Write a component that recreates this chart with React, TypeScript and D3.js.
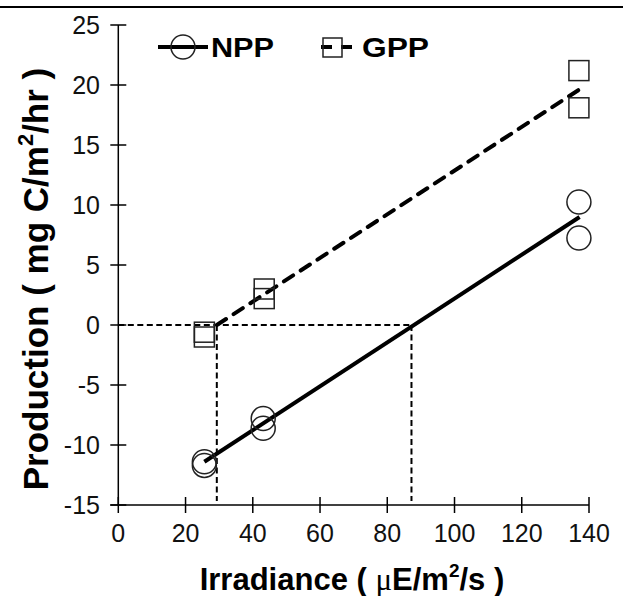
import React from 'react';
import * as d3 from 'd3';

// measured values
const nppX = [25.6, 25.6, 43.1, 43.1, 137, 137];
const nppY = [-11.4, -11.7, -7.8, -8.6, 10.25, 7.25];
const gppX = [25.6, 25.6, 43.4, 43.4, 137, 137];
const gppY = [-0.6, -1.0, 3.0, 2.2, 21.2, 18.1];

// fitted lines and compensation points
const nppFit: [number, number][] = [[25.6, -11.4], [137.2, 9.0]];
const gppFit: [number, number][] = [[29.3, 0], [137, 19.6]];
const compX = [29.3, 87.2];

const xTicks = [0, 20, 40, 60, 80, 100, 120, 140];
const yTicks = [-15, -10, -5, 0, 5, 10, 15, 20, 25];

const W = 623;
const H = 596;

const App = () => {
  const x = d3.scaleLinear().domain([0, 140]).range([118.3, 589]);
  const y = d3.scaleLinear().domain([-15, 25]).range([505, 25]);
  const line = d3.line<[number, number]>().x(d => x(d[0])).y(d => y(d[1]));
  const sans = 'Liberation Sans, Arial, Helvetica, sans-serif';

  return (
    <svg width={W} height={H} style={{ position: 'absolute', left: 0, top: 0, background: '#fff' }}
      fontFamily={sans}>
      <line x1={0} x2={W} y1={7} y2={7} stroke="#000" strokeWidth={2} />

      {/* axes */}
      <line x1={x(0)} x2={x(0)} y1={y(25)} y2={y(-15)} stroke="#000" strokeWidth={1.5} />
      <line x1={x(0) - 8} x2={x(140)} y1={y(-15)} y2={y(-15)} stroke="#000" strokeWidth={1.5} />
      {yTicks.map(t => (
        <g key={'y' + t}>
          <line x1={x(0) - 8} x2={x(0) + 8} y1={y(t)} y2={y(t)} stroke="#000" strokeWidth={1.5} />
          <text x={100} y={y(t)} dy="0.35em" textAnchor="end" fontSize={25} fill="#111">{t}</text>
        </g>
      ))}
      {xTicks.map(t => (
        <g key={'x' + t}>
          <line x1={x(t)} x2={x(t)} y1={y(-15) - 8} y2={y(-15) + 8} stroke="#000" strokeWidth={1.5} />
          <text x={x(t)} y={542} textAnchor="middle" fontSize={25} fill="#111">{t}</text>
        </g>
      ))}

      {/* compensation reference lines */}
      <line x1={x(0)} x2={x(compX[1])} y1={y(0)} y2={y(0)} stroke="#000" strokeWidth={2} strokeDasharray="6,3.5" />
      {compX.map(c => (
        <line key={c} x1={x(c)} x2={x(c)} y1={y(0)} y2={y(-15) - 4} stroke="#000" strokeWidth={2} strokeDasharray="6,3.5" />
      ))}

      {/* fits */}
      <path d={line(nppFit) || ''} fill="none" stroke="#000" strokeWidth={4} />
      <path d={line(gppFit) || ''} fill="none" stroke="#000" strokeWidth={4} strokeDasharray="11,9" strokeLinecap="round" />

      {/* markers */}
      {nppX.map((v, i) => (
        <circle key={'n' + i} cx={x(v)} cy={y(nppY[i])} r={12} fill="none" stroke="#222" strokeWidth={1.5} />
      ))}
      {gppX.map((v, i) => (
        <rect key={'g' + i} x={x(v) - 10} y={y(gppY[i]) - 10} width={20} height={20} fill="none" stroke="#222" strokeWidth={1.5} />
      ))}

      {/* legend */}
      <line x1={158} x2={208} y1={47} y2={47} stroke="#000" strokeWidth={4} />
      <circle cx={183} cy={47} r={12} fill="none" stroke="#222" strokeWidth={1.5} />
      <text x={211} y={57} fontSize={27} fontWeight="bold" textLength={63} lengthAdjust="spacingAndGlyphs">NPP</text>
      <line x1={321} x2={359} y1={47} y2={47} stroke="#000" strokeWidth={4} strokeDasharray="11,9" />
      <rect x={323} y={38} width={19} height={19} fill="none" stroke="#222" strokeWidth={1.5} />
      <text x={362} y={57} fontSize={27} fontWeight="bold" textLength={67} lengthAdjust="spacingAndGlyphs">GPP</text>

      {/* axis titles */}
      <text x={352} y={590} textAnchor="middle" fontSize={31} fontWeight="bold">
        {'Irradiance ( '}
        <tspan fontFamily="Liberation Serif, serif" fontWeight="normal">μ</tspan>
        {'E/m'}<tspan fontSize={19} dy={-13}>2</tspan><tspan dy={13}>{'/s )'}</tspan>
      </text>
      <text transform="translate(48,279) rotate(-90)" textAnchor="middle" fontSize={35} fontWeight="bold">
        {'Production ( mg C/m'}<tspan fontSize={22} dy={-15}>2</tspan><tspan dy={15}>{'/hr )'}</tspan>
      </text>
    </svg>
  );
};

export default App;
